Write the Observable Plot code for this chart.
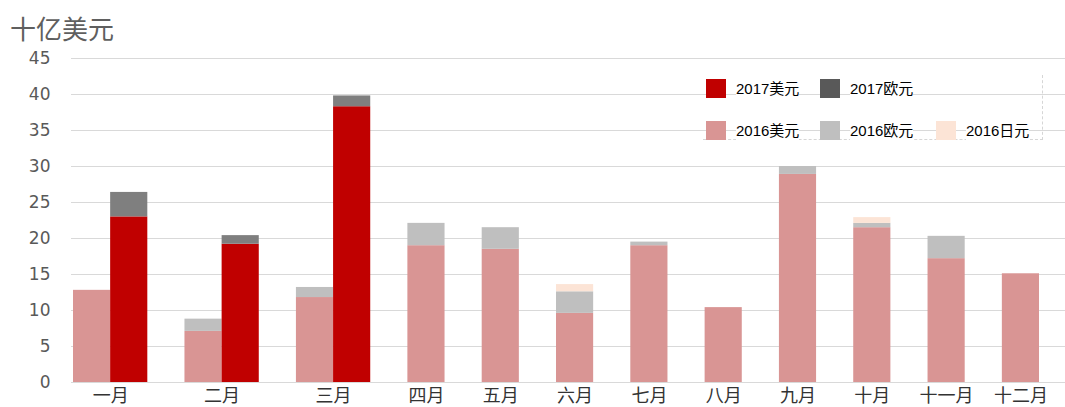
<!DOCTYPE html>
<html><head><meta charset="utf-8">
<script src="https://cdn.jsdelivr.net/npm/d3@7"></script>
<script src="https://cdn.jsdelivr.net/npm/@observablehq/plot@0.6"></script>
<style>
html,body{margin:0;padding:0;background:#fff;overflow:hidden;}
#wrap{position:relative;width:1065px;height:407px;overflow:hidden;}
#title{height:40px;box-sizing:border-box;padding:15px 0 0 10px;font:26px/26px "Noto Sans CJK SC",sans-serif;color:#5f5f5f;}
#chart svg{overflow:visible;display:block;}
#legend{position:absolute;left:706px;top:79px;display:grid;grid-template-columns:114px 116px 107px;row-gap:23px;
  font:15px/19px "Liberation Sans","Noto Sans CJK SC",sans-serif;color:#000;}
#legend .item{display:flex;align-items:center;height:19px;}
#legend .sw{width:20px;height:19px;margin-right:10px;}
#legend .tx{background:#fff;}
#legend .blank{height:19px;}
#lbox{position:absolute;left:703px;top:75px;width:340px;height:65px;border-right:1px dashed #d6d6d6;border-bottom:1px dashed #d6d6d6;box-sizing:border-box;}
</style>
</head><body>
<div id="wrap">
  <div id="title"></div>
  <div id="chart"></div>
  <div id="lbox"></div>
  <div id="legend"></div>
</div>
<script>
const titleText = "十亿美元";
const months = ["一月","二月","三月","四月","五月","六月","七月","八月","九月","十月","十一月","十二月"];
const usd2016 = [12.8, 7.1, 11.8, 19.0, 18.5, 9.6, 19.0, 10.4, 28.9, 21.5, 17.2, 15.1];
const eur2016 = [0, 1.7, 1.4, 3.1, 3.0, 3.0, 0.5, 0, 1.1, 0.6, 3.1, 0];
const jpy2016 = [0, 0, 0, 0, 0, 1.0, 0, 0, 0, 0.8, 0, 0];
const usd2017 = [23.0, 19.2, 38.3];
const eur2017 = [3.4, 1.2, 1.5];
const seriesNames = ["2017美元","2017欧元","2016美元","2016欧元","2016日元"];
const barColors = ["#c00000","#7f7f7f","#d99594","#bfbfbf","#fce4d6"];
const legendColors = ["#c00000","#595959","#d99594","#bfbfbf","#fce4d6"];
const legendRows = [["2017美元","2017欧元"],["2016美元","2016欧元","2016日元"]];
const yTicks = [0,5,10,15,20,25,30,35,40,45];

document.getElementById("title").textContent = titleText;

// build stacked bars in slot units
const bars = [];
const monthTicks = [];
let p = 0;
months.forEach((m, i) => {
  const groups = [[["2016美元", usd2016[i]], ["2016欧元", eur2016[i]], ["2016日元", jpy2016[i]]]];
  if (i < usd2017.length) groups.push([["2017美元", usd2017[i]], ["2017欧元", eur2017[i]]]);
  groups.forEach((parts, k) => {
    let y = 0;
    parts.forEach(([s, v]) => {
      if (v > 0) { bars.push({x1: p + k, x2: p + k + 1, y1: y, y2: y + v, series: s}); y += v; }
    });
  });
  monthTicks.push({pos: p + groups.length / 2, label: m});
  p += groups.length + 1;
});
const labelOf = new Map(monthTicks.map(d => [d.pos, d.label]));

const chart = Plot.plot({
  width: 1065, height: 367,
  marginTop: 18, marginBottom: 25, marginLeft: 71, marginRight: 0,
  x: {domain: [0, p - 1], range: [73, 1039]},
  y: {domain: [0, 45]},
  color: {domain: seriesNames, range: barColors},
  marks: [
    Plot.ruleY(yTicks, {stroke: "#d9d9d9", strokeWidth: 1}),
    Plot.rect(bars, {x1: "x1", x2: "x2", y1: "y1", y2: "y2", fill: "series"}),
    Plot.axisY(yTicks, {tickSize: 0, tickPadding: 21, fontSize: 17, fontFamily: "DejaVu Sans", fill: "#595959", label: null}),
    Plot.axisX(monthTicks.map(d => d.pos), {tickSize: 0, tickPadding: 7, tickFormat: d => labelOf.get(d), fontSize: 18, fontFamily: "Noto Sans CJK SC", fill: "#333", label: null})
  ]
});
document.getElementById("chart").appendChild(chart);

// legend
const lg = document.getElementById("legend");
legendRows.forEach(row => {
  for (let c = 0; c < 3; c++) {
    const name = row[c];
    const el = document.createElement("div");
    if (!name) { el.className = "blank"; lg.appendChild(el); continue; }
    el.className = "item";
    const sw = document.createElement("span");
    sw.className = "sw";
    sw.style.background = legendColors[seriesNames.indexOf(name)];
    const tx = document.createElement("span");
    tx.className = "tx";
    tx.textContent = name;
    el.appendChild(sw); el.appendChild(tx);
    lg.appendChild(el);
  }
});
</script>
</body></html>
